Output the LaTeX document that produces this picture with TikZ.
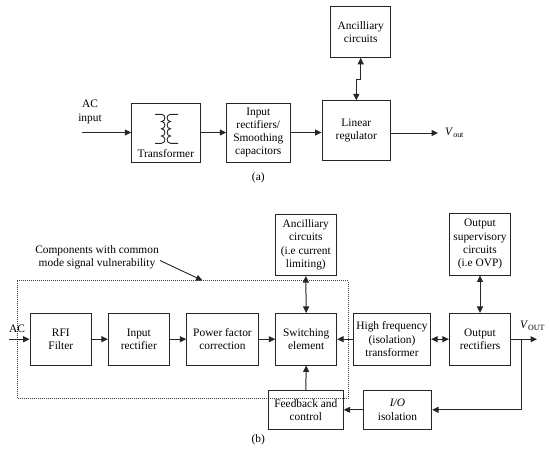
\documentclass[tikz,border=0pt]{standalone}
\usepackage{fontspec}
\setmainfont{Liberation Serif}
\usetikzlibrary{arrows.meta}
\begin{document}
\begin{tikzpicture}[x=1pt,y=-1pt,
  every node/.style={font=\fontsize{11.4}{13.2}\selectfont},
  blk/.style={draw=black!85, line width=0.8pt, inner sep=0pt, align=center},
  lbl/.style={inner sep=0pt, align=center},
  arr/.style={-{Triangle[length=6.5pt,width=6pt]}, line width=1pt, black!85},
  darr/.style={{Triangle[length=6.5pt,width=6pt]}-{Triangle[length=6.5pt,width=6pt]}, line width=1pt, black!85},
  zone/.style={draw=black!75, line width=0.7pt, dash pattern=on 1pt off 1pt}]
\useasboundingbox (0,0) rectangle (549,456);

% ---------- (a) ----------
\node[lbl] (acin) at (90,112) {AC\\input};
\coordinate (acstart) at (82,132.5);
\node[blk, minimum width=68.3pt, minimum height=59pt] (trans) at (165.8,132.5) {};
\node[lbl] (translbl) at (165.8,154) {Transformer};
\node[blk, minimum width=63.3pt, minimum height=59pt] (inrect) at (258.3,132.5) {Input\\rectifiers/\\Smoothing\\capacitors};
\node[blk, minimum width=68.7pt, minimum height=59.3pt] (linreg) at (356.3,130.4) {Linear\\regulator};
\node[blk, minimum width=60pt, minimum height=51.3pt] (anca) at (360.7,31.7) {Ancilliary\\circuits};
\node[anchor=west, inner xsep=7pt, inner ysep=0pt] (vouta) at (438,133) {\textit{V}\textsubscript{out}};
\node[lbl] (la) at (258.3,178) {(a)};

% transformer symbol
\draw[line width=0.9pt, black!85] (155,114.3) -- (161.5,114.3)
  .. controls (166,114.3) and (166,121.5) .. (161.5,121.5)
  .. controls (166,121.5) and (166,128.8) .. (161.5,128.8)
  .. controls (166,128.8) and (166,136) .. (161.5,136)
  .. controls (166,136) and (166,143.3) .. (161.5,143.3) -- (155,143.3);
\draw[line width=0.9pt, black!85] (178,114.3) -- (170.5,114.3)
  .. controls (166,114.3) and (166,121.5) .. (170.5,121.5)
  .. controls (166,121.5) and (166,128.8) .. (170.5,128.8)
  .. controls (166,128.8) and (166,136) .. (170.5,136)
  .. controls (166,136) and (166,143.3) .. (170.5,143.3) -- (178,143.3);

\draw[arr] (acstart) -- (trans.west);
\draw[arr] (trans.east) -- (inrect.west);
\draw[arr] (inrect.east) -- (inrect.east -| linreg.west);
\draw[arr] (linreg.east |- vouta.west) -- (vouta.west);
\draw[darr] (anca.south) -- ++(0,22) -| (linreg.north);

% ---------- (b) ----------
\draw[zone] (17.3,280.7) rectangle (348,398.3);
\node[lbl] (cmtext) at (97,257.5) {Components with common\\mode signal vulnerability};
\coordinate (cmfrom) at (160,260.5);
\coordinate (cmto) at (202.5,280.5);
\draw[arr, line width=0.9pt] (cmfrom) -- (cmto);

\node[lbl] (acb) at (17,329) {AC};
\coordinate (acbstart) at (9,339.2);
\node[blk, minimum width=61.7pt, minimum height=51.7pt] (rfi) at (60.8,339.2) {RFI\\Filter};
\node[blk, minimum width=61pt, minimum height=51.7pt] (inr) at (138.8,339.2) {Input\\rectifier};
\node[blk, minimum width=71.6pt, minimum height=51.7pt] (pfc) at (222.5,339.2) {Power factor\\correction};
\node[blk, minimum width=61pt, minimum height=51.7pt] (sw) at (306.2,339.2) {Switching\\element};
\node[blk, minimum width=77.4pt, minimum height=51.7pt] (hf) at (392,339.2) {High frequency\\(isolation)\\transformer};
\node[blk, minimum width=61.4pt, minimum height=51.7pt] (outr) at (480,339.2) {Output\\rectifiers};
\node[blk, minimum width=61.7pt, minimum height=61.7pt] (ancb) at (305.8,244.8) {Ancilliary\\circuits\\(i.e current\\limiting)};
\node[blk, minimum width=61.4pt, minimum height=61.7pt] (sup) at (480,244.2) {Output\\supervisory\\circuits\\(i.e OVP)};
\node[blk, minimum width=75pt, minimum height=38.3pt] (fb) at (305.8,409.8) {Feedback and\\control};
\node[blk, minimum width=68.4pt, minimum height=38.3pt] (io) at (397.5,409.8) {\textit{I/O}\\isolation};
\node[lbl] (voutb) at (532.5,325.5) {\textit{V}\textsubscript{OUT}};
\coordinate (voutend) at (537,339.2);
\coordinate (branch) at (521,339.2);
\node[lbl] (lb) at (258.3,440) {(b)};

\draw[arr] (acbstart) -- (rfi.west);
\draw[arr] (rfi.east) -- (inr.west);
\draw[arr] (inr.east) -- (pfc.west);
\draw[arr] (pfc.east) -- (sw.west);
\draw[arr] (hf.west) -- (sw.east);
\draw[darr] (hf.east) -- (outr.west);
\draw[arr] (outr.east) -- (voutend);
\draw[arr] (branch) |- (io.east);
\draw[arr] (io.west) -- (fb.east);
\draw[arr] (fb.north) -- (sw.south);
\draw[darr] (ancb.south) -- (sw.north);
\draw[darr] (sup.south) -- (outr.north);
\end{tikzpicture}
\end{document}
